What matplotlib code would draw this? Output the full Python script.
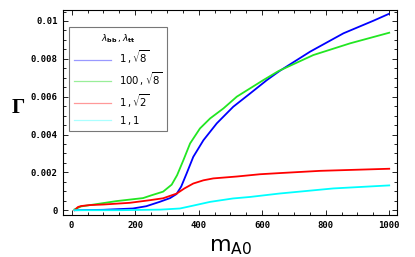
import numpy as np
import matplotlib
matplotlib.use("Agg")
import matplotlib.pyplot as plt
from matplotlib.lines import Line2D
from matplotlib.ticker import MultipleLocator

# curves: x = m_A0, y = Gamma
x_b = [10, 100, 193, 235, 277, 310, 330, 345, 362, 383, 415, 457, 509, 562, 615, 654,
       751, 856, 951, 998]
y_b = [0.0, 0.00002, 0.00009, 0.00021, 0.00044, 0.00064, 0.00085, 0.00125, 0.00194, 0.00282,
       0.0037, 0.00459, 0.00547, 0.00617, 0.00688, 0.00735, 0.00838, 0.00935, 0.01002, 0.01037]

x_g = [9, 30, 78, 141, 225, 250, 288, 315, 332, 352, 373, 404, 436, 478, 520, 562, 604,
       651, 761, 877, 1000]
y_g = [0.00004, 0.0002, 0.00032, 0.00048, 0.00064, 0.00078, 0.00098, 0.00135, 0.00185,
       0.00265, 0.00353, 0.00432, 0.00485, 0.00538, 0.006, 0.00644, 0.00688, 0.00735,
       0.0082, 0.00882, 0.00938]

x_r = [9, 20, 30, 57, 100, 183, 247, 288, 331, 355, 383, 415, 446, 520, 593, 654, 783, 1000]
y_r = [0.0, 0.00017, 0.00022, 0.00027, 0.0003, 0.00039, 0.00053, 0.00063, 0.00088, 0.00115,
       0.00141, 0.00158, 0.00168, 0.00178, 0.0019, 0.00196, 0.00208, 0.00219]

x_c = [9, 150, 280, 341, 385, 436, 508, 562, 654, 824, 1000]
y_c = [0.0, 0.0, 0.00003, 0.00009, 0.00025, 0.00044, 0.00062, 0.0007, 0.00088, 0.00115, 0.00131]

labels = [r"$1\,,\sqrt{8}$", r"$100\,,\sqrt{8}$", r"$1\,,\sqrt{2}$", r"$1\,,1$"]
colors = ["#0000ff", "#22e622", "#ff0000", "#00ffff"]
light = ["#9999ff", "#99ee99", "#ff9999", "#aaffff"]

xticks = [0, 200, 400, 600, 800, 1000]
yticks = [0, 0.002, 0.004, 0.006, 0.008, 0.01]
ytick_labels = ["0", "0.002", "0.004", "0.006", "0.008", "0.01"]

fig = plt.figure(figsize=(4.15, 2.57), dpi=100)
ax = fig.add_axes([0.152, 0.163, 0.805, 0.798])

for xs, ys, c in zip([x_b, x_g, x_r, x_c], [y_b, y_g, y_r, y_c], colors):
    ax.plot(xs, ys, color=c, lw=1.3)

ax.set_xlim(-27, 1025)
ax.set_ylim(-0.00026, 0.01058)
ax.set_xticks(xticks)
ax.set_yticks(yticks)
ax.set_yticklabels(ytick_labels)
ax.xaxis.set_minor_locator(MultipleLocator(50))
ax.yaxis.set_minor_locator(MultipleLocator(0.0005))
ax.tick_params(which="both", direction="in", top=True, right=True, width=0.6)
ax.tick_params(which="major", length=3.5, pad=4)
ax.tick_params(which="minor", length=2)
for lab in ax.get_xticklabels() + ax.get_yticklabels():
    lab.set_family("DejaVu Sans Mono")
    lab.set_fontweight("bold")
    lab.set_fontsize(6.5)
for s in ax.spines.values():
    s.set_linewidth(0.8)

fig.text(0.045, 0.58, "\u0393", fontsize=15, ha="center", va="center",
         family="Liberation Serif", fontweight="bold")
fig.text(0.555, 0.04, r"m$_{\mathregular{A0}}$", fontsize=16, ha="center", va="center")

handles = [Line2D([], [], color=c, lw=0.9) for c in light]
leg = ax.legend(handles, labels, loc="upper left", bbox_to_anchor=(0.018, 0.915),
                title=r"$\lambda_{\mathbf{bb}}\,,\lambda_{\mathbf{tt}}$",
                fancybox=False, edgecolor="#777777", framealpha=1,
                prop={"family": "DejaVu Sans Mono", "weight": "bold", "size": 7.3},
                title_fontsize=6.5, handlelength=3.7, labelspacing=0.4,
                borderpad=0.45, handletextpad=0.8, borderaxespad=0)
leg.get_frame().set_linewidth(0.8)

fig.savefig("out.png", dpi=100)
